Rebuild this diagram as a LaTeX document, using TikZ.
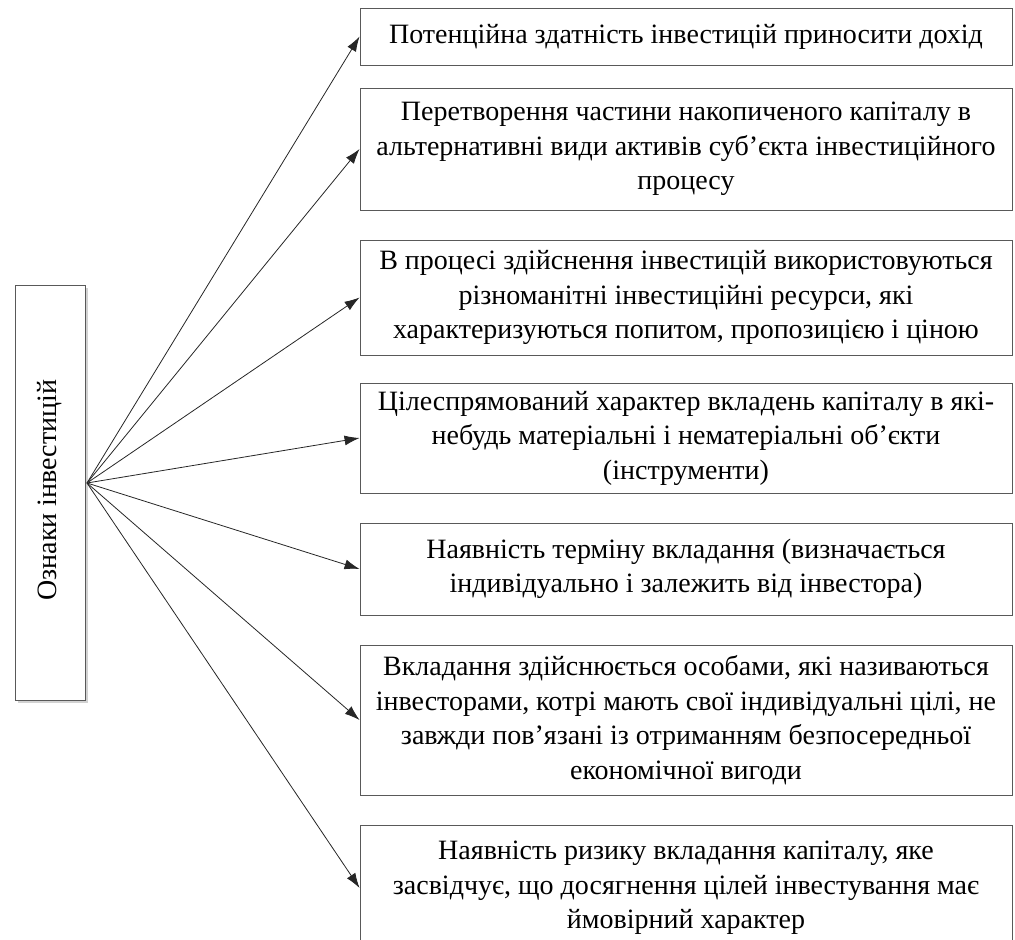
\documentclass[tikz,border=0pt]{standalone}
\usepackage{fontspec}
\setmainfont{Liberation Serif}
\usetikzlibrary{arrows.meta,shadows}
\begin{document}
\begin{tikzpicture}[x=1pt,y=-1pt,
  feat/.style={draw=black!65, line width=0.9pt, minimum width=652pt, inner sep=0pt,
    align=center, font=\fontsize{28}{34.5}\selectfont},
  mainbox/.style={draw=black!65, line width=0.9pt, fill=white, minimum width=70pt, minimum height=415pt,
    inner sep=0pt, drop shadow={shadow xshift=3pt, shadow yshift=-3pt, fill=black!35}},
  arr/.style={-{Latex[length=15pt,width=10pt]}, line width=0.8pt, black!85}]
\useasboundingbox (0,0) rectangle (1015,940);
\clip (0,0) rectangle (1015,940);
\node[mainbox] (L) at (50,492.5) {};
\node[rotate=90, font=\fontsize{28}{34}\selectfont] (Lt) at (50,490) {Ознаки інвестицій};
\coordinate (o) at (87,483);
\node[feat, minimum height=57pt] (b1) at (686,36.5) {Потенційна здатність інвестицій приносити дохід};
\node[feat, minimum height=122pt] (b2) at (686,149) {Перетворення частини накопиченого капіталу в\\альтернативні види активів суб’єкта інвестиційного\\процесу};
\node[feat, minimum height=115pt] (b3) at (686,297.5) {В процесі здійснення інвестицій використовуються\\різноманітні інвестиційні ресурси, які\\характеризуються попитом, пропозицією і ціною};
\node[feat, minimum height=110pt] (b4) at (686,438) {Цілеспрямований характер вкладень капіталу в які-\\небудь матеріальні і нематеріальні об’єкти\\(інструменти)};
\node[feat, minimum height=92pt] (b5) at (686,569) {Наявність терміну вкладання (визначається\\індивідуально і залежить від інвестора)};
\node[feat, minimum height=150pt] (b6) at (686,720) {Вкладання здійснюється особами, які називаються\\інвесторами, котрі мають свої індивідуальні цілі, не\\завжди пов’язані із отриманням безпосередньої\\економічної вигоди};
\node[feat, minimum height=126pt] (b7) at (686,888) {Наявність ризику вкладання капіталу, яке\\засвідчує, що досягнення цілей інвестування має\\ймовірний характер};
\foreach \b in {b1,b2,b3,b4,b5,b6,b7} \draw[arr] (o) -- (\b.west);
\end{tikzpicture}
\end{document}
